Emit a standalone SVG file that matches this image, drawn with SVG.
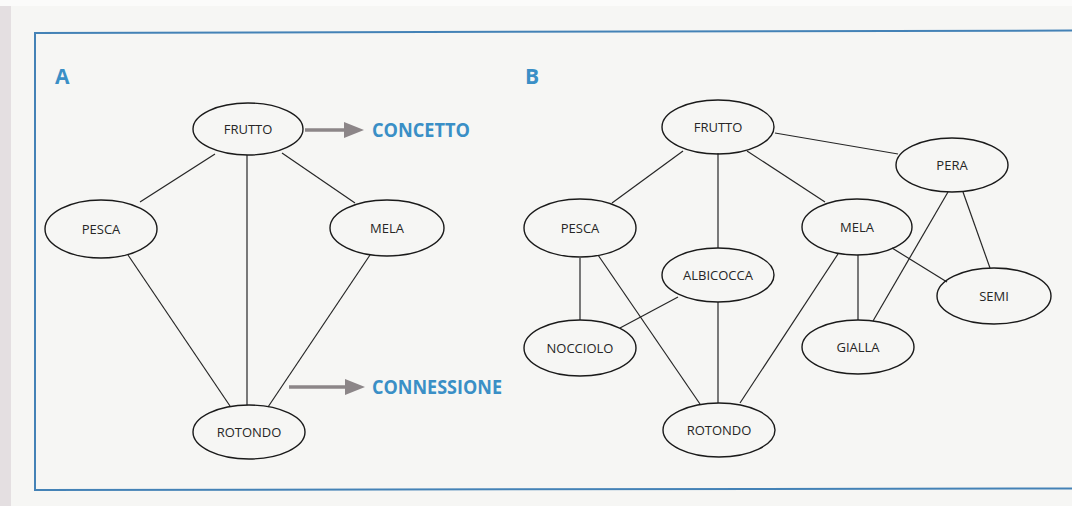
<svg xmlns="http://www.w3.org/2000/svg" width="1072" height="506" viewBox="0 0 1072 506">
<defs>
<style>
.n ellipse{fill:none;stroke:#1a1a1a;stroke-width:1.4}
.n text{font-family:"Open Sans","Noto Sans",sans-serif;font-size:13px;fill:#262626;text-anchor:middle;dominant-baseline:central}
#connectors line{stroke:#262626;stroke-width:1.2}
.lbl{font-family:"Open Sans","Noto Sans",sans-serif;font-weight:700;fill:#3a8fc6}
.arr{stroke:#8c8688;stroke-width:3.5}
.head{fill:#8c8688}
</style>
</defs>
<rect x="0" y="0" width="1072" height="506" fill="#f6f6f4"/>
<rect x="0" y="0" width="11" height="506" fill="#e4dfe1"/>
<rect x="0" y="0" width="1072" height="6" fill="#fbfbfa"/>
<g id="frame" fill="none" stroke="#4482b6" stroke-width="2">
<polyline points="1072,30.5 35,33 35,490 1072,488.5"/>
</g>
<text class="lbl" x="55" y="84" font-size="21">A</text>
<text class="lbl" x="525" y="84" font-size="21">B</text>
<g id="connectors">
<line x1="215" y1="154" x2="140" y2="202"/>
<line x1="247" y1="155" x2="247" y2="405"/>
<line x1="282" y1="153" x2="355" y2="203"/>
<line x1="128" y1="255" x2="230" y2="406"/>
<line x1="370" y1="255" x2="268" y2="407"/>
<line x1="683" y1="151" x2="612" y2="203"/>
<line x1="718" y1="153" x2="718" y2="248"/>
<line x1="747" y1="151" x2="825" y2="202"/>
<line x1="775" y1="133" x2="898" y2="154"/>
<line x1="948" y1="192" x2="873" y2="321"/>
<line x1="963" y1="192" x2="990" y2="268"/>
<line x1="892" y1="248" x2="947" y2="282"/>
<line x1="858" y1="255" x2="858" y2="320"/>
<line x1="838" y1="254" x2="740" y2="403"/>
<line x1="580" y1="258" x2="580" y2="320"/>
<line x1="598" y1="255" x2="700" y2="404"/>
<line x1="678" y1="297" x2="620" y2="328"/>
<line x1="718" y1="302" x2="718" y2="403"/>
</g>
<g id="legend-concetto">
<line class="arr" x1="305" y1="130" x2="346" y2="130"/>
<polygon class="head" points="344,122 364,130 344,138"/>
<text class="lbl" x="372" y="137" font-size="20" textLength="98" lengthAdjust="spacingAndGlyphs">CONCETTO</text>
</g>
<g id="legend-connessione">
<line class="arr" x1="289" y1="387" x2="347" y2="387"/>
<polygon class="head" points="345,379 365,387 345,395"/>
<text class="lbl" x="372" y="394" font-size="20" textLength="130" lengthAdjust="spacingAndGlyphs">CONNESSIONE</text>
</g>
<g id="a-frutto" class="n"><ellipse cx="248" cy="129" rx="55" ry="26"/><text x="248" y="129">FRUTTO</text></g>
<g id="a-pesca" class="n"><ellipse cx="101" cy="229" rx="56" ry="29"/><text x="101" y="229">PESCA</text></g>
<g id="a-mela" class="n"><ellipse cx="387" cy="228" rx="57" ry="28"/><text x="387" y="228">MELA</text></g>
<g id="a-rotondo" class="n"><ellipse cx="249" cy="432" rx="56" ry="27"/><text x="249" y="432">ROTONDO</text></g>
<g id="b-frutto" class="n"><ellipse cx="718" cy="127" rx="56" ry="27"/><text x="718" y="127">FRUTTO</text></g>
<g id="b-pera" class="n"><ellipse cx="952" cy="165" rx="56" ry="27"/><text x="952" y="165">PERA</text></g>
<g id="b-pesca" class="n"><ellipse cx="580" cy="228" rx="56" ry="29"/><text x="580" y="228">PESCA</text></g>
<g id="b-mela" class="n"><ellipse cx="857" cy="227" rx="55" ry="28"/><text x="857" y="227">MELA</text></g>
<g id="b-albicocca" class="n"><ellipse cx="718" cy="275" rx="56" ry="27"/><text x="718" y="275">ALBICOCCA</text></g>
<g id="b-nocciolo" class="n"><ellipse cx="580" cy="348" rx="56" ry="28"/><text x="580" y="348">NOCCIOLO</text></g>
<g id="b-gialla" class="n"><ellipse cx="858" cy="347" rx="56" ry="27"/><text x="858" y="347">GIALLA</text></g>
<g id="b-semi" class="n"><ellipse cx="994" cy="296" rx="57" ry="28"/><text x="994" y="296">SEMI</text></g>
<g id="b-rotondo" class="n"><ellipse cx="719" cy="430" rx="56" ry="27"/><text x="719" y="430">ROTONDO</text></g>
</svg>
